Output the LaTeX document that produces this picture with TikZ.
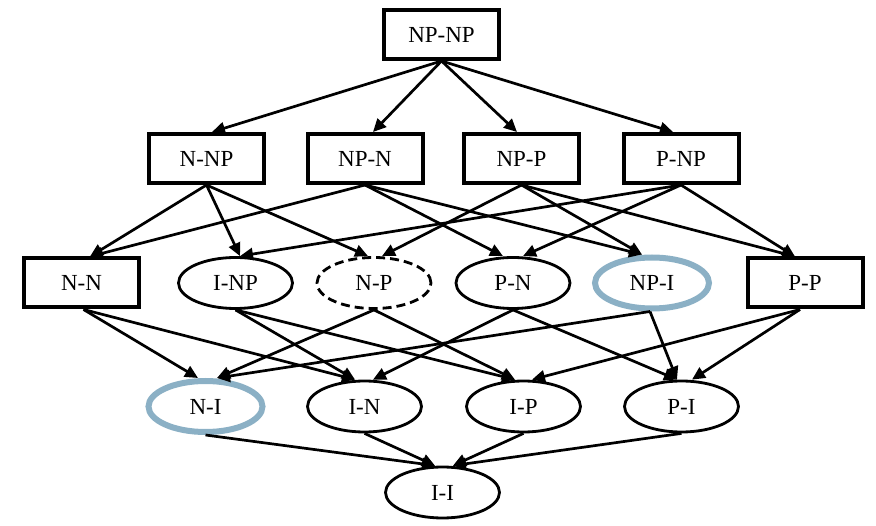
\documentclass[tikz,border=0pt]{standalone}
\usepackage{fontspec}
\setmainfont{Liberation Serif}
\usetikzlibrary{arrows.meta,shapes.geometric}
\definecolor{bluegray}{RGB}{139,176,197}
\begin{document}
\begin{tikzpicture}[x=1pt,y=-1pt,
  lbl/.style={font=\fontsize{23}{27}\selectfont},
  box/.style={lbl, draw, line width=4pt, minimum width=115pt, minimum height=49pt, inner sep=0pt},
  oval/.style={lbl, draw, ellipse, line width=2.8pt, minimum width=114pt, minimum height=51pt, inner sep=0pt},
  hl/.style={oval, draw=bluegray, line width=6pt},
  dashoval/.style={oval, dash pattern=on 9pt off 5pt},
  edge/.style={line width=2.7pt, -{Triangle[length=13pt,width=12pt]}}
]
\useasboundingbox (0,0) rectangle (876,526);
% row 1
\node[box] (npnp) at (441.5,34.5) {NP-NP};
% row 2
\node[box] (nnp) at (206.5,158.5) {N-NP};
\node[box] (npn) at (365,158.5) {NP-N};
\node[box] (npp) at (521.5,158.5) {NP-P};
\node[box] (pnp) at (681,158.5) {P-NP};
% row 3
\node[box] (nn) at (81.5,283) {N-N};
\node[oval] (inp) at (235.5,283) {I-NP};
\node[dashoval] (np) at (374,283) {N-P};
\node[oval] (pn) at (513,283) {P-N};
\node[hl] (npi) at (652,283) {NP-I};
\node[box] (pp) at (805,283) {P-P};
% row 4
\node[hl] (ni) at (205.5,406.5) {N-I};
\node[oval] (in) at (364.5,406.5) {I-N};
\node[oval] (ip) at (523.5,406.5) {I-P};
\node[oval] (pi) at (681.5,406.5) {P-I};
% row 5
\node[oval] (ii) at (442.5,492.5) {I-I};

% row 1 -> row 2
\draw[edge] (npnp.south) -- ([xshift=5.5pt]nnp.north);
\draw[edge] (npnp.south) -- ([xshift=8pt]npn.north);
\draw[edge] (npnp.south) -- ([xshift=-4.5pt]npp.north);
\draw[edge] (npnp.south) -- ([xshift=-8pt]pnp.north);

% row 2 -> row 3
\draw[edge] (nnp.south) -- ([xshift=8.5pt]nn.north);
\draw[edge] (nnp.south) -- ([xshift=4.5pt]inp.north);
\draw[edge] (nnp.south) -- ([xshift=-6pt]np.north);
\draw[edge] (npn.south) -- ([xshift=8.5pt]nn.north);
\draw[edge] (npn.south) -- ([xshift=-10pt]pn.north);
\draw[edge] (npn.south) -- ([xshift=-10pt]npi.north);
\draw[edge] (npp.south) -- ([xshift=8pt]np.north);
\draw[edge] (npp.south) -- ([xshift=-10pt]npi.north);
\draw[edge] (npp.south) -- ([xshift=-10pt]pp.north);
\draw[edge] (pnp.south) -- ([xshift=4.5pt]inp.north);
\draw[edge] (pnp.south) -- ([xshift=10pt]pn.north);
\draw[edge] (pnp.south) -- ([xshift=-10pt]pp.north);

% row 3 -> row 4
\draw[edge] ([xshift=2pt]nn.south) -- ([xshift=-7.5pt]ni.north);
\draw[edge] ([xshift=2pt]nn.south) -- ([xshift=-9.5pt]in.north);
\draw[edge] (inp.south) -- ([xshift=-9.5pt]in.north);
\draw[edge] (inp.south) -- ([xshift=-8.5pt]ip.north);
\draw[edge] (np.south) -- ([xshift=11.5pt]ni.north);
\draw[edge] (np.south) -- ([xshift=-8.5pt]ip.north);
\draw[edge] (pn.south) -- ([xshift=8.5pt]in.north);
\draw[edge] (pn.south) -- ([xshift=-4.5pt]pi.north);
\draw[edge] ([xshift=-2pt]npi.south) -- ([xshift=11.5pt]ni.north);
\draw[edge] ([xshift=-2pt]npi.south) -- ([xshift=-4.5pt]pi.north);
\draw[edge] ([xshift=-5pt]pp.south) -- ([xshift=8.5pt]ip.north);
\draw[edge] ([xshift=-5pt]pp.south) -- ([xshift=10.5pt]pi.north);

% row 4 -> row 5
\draw[edge] (ni.south) -- ([xshift=-7.5pt]ii.north);
\draw[edge] (in.south) -- ([xshift=-7.5pt]ii.north);
\draw[edge] (ip.south) -- ([xshift=10.5pt]ii.north);
\draw[edge] (pi.south) -- ([xshift=10.5pt]ii.north);
\end{tikzpicture}
\end{document}
